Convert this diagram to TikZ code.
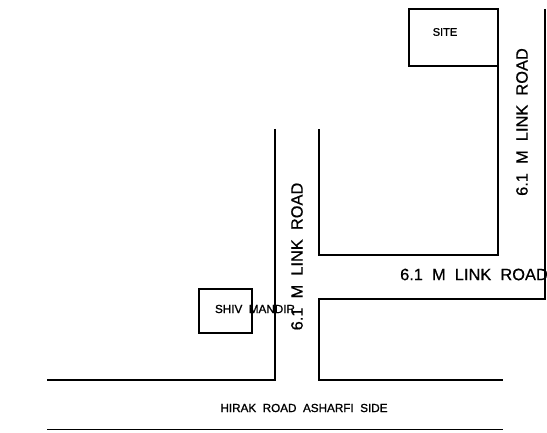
\documentclass[tikz,border=0pt]{standalone}
\usepackage{fontspec}
\setmainfont{Liberation Sans}[WordSpace=2.0]
\tikzset{
  road/.style={draw=black,line width=1.5pt,line join=miter},
  plot/.style={road,rectangle,inner sep=0pt,outer sep=0pt,anchor=north west},
  lab/.style={inner sep=0pt,anchor=center,text=black},
  big/.style={lab,font=\fontsize{16.4}{16.4}\selectfont\addfontfeature{FakeBold=0.6}},
  small/.style={lab,font=\fontsize{11.7}{11.7}\selectfont\addfontfeature{FakeBold=1.2}},
  tiny/.style={lab,font=\fontsize{11}{11}\selectfont\addfontfeature{FakeBold=1.2}},
}
\begin{document}
\begin{tikzpicture}[x=1pt,y=-1pt]
\useasboundingbox (0,0) rectangle (547,433);
\coordinate (a2) at (498,255);
\coordinate (a3) at (319,255);
\coordinate (a4) at (319,129);
\coordinate (b1) at (275,129);
\coordinate (b2) at (275,380);
\coordinate (b3) at (47,380);
\coordinate (c1) at (545,9);
\coordinate (c2) at (545,299);
\coordinate (c3) at (319,299);
\coordinate (c4) at (319,380);
\coordinate (c5) at (503,380);
\coordinate (d1) at (47,429.5);
\coordinate (d2) at (503,429.5);
\node[plot,minimum width=89pt,minimum height=57pt] (site) at (409,9) {};
\node[plot,minimum width=53pt,minimum height=44pt] (shiv) at (199,289) {};
\draw[road] (site.south east) -- (a2) -- (a3) -- (a4);
\draw[road] (b1) -- (b2) -- (b3);
\draw[road] (c1) -- (c2) -- (c3) -- (c4) -- (c5);
\draw[road] (d1) -- (d2);
\node[tiny] (t1) at (445,32) {SITE};
\node[small] (t2) at (255,309) {SHIV MANDIR};
\node[small] (t3) at (304,408) {HIRAK ROAD ASHARFI SIDE};
\node[big] (t4) at (474,274.5) {6.1 M LINK ROAD};
\node[big,rotate=90] (t5) at (297,256.5) {6.1 M LINK ROAD};
\node[big,rotate=90] (t6) at (522,122) {6.1 M LINK ROAD};
\end{tikzpicture}
\end{document}
